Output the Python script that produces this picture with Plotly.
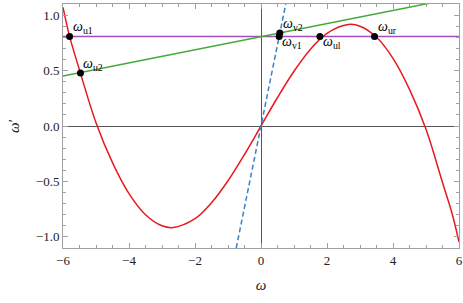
import plotly.graph_objects as go

# Red curve omega'
curve_x = [-6.0, -5.8, -5.5, -5.0, -4.5, -4.0, -3.5, -3.0, -2.65, -2.0, -1.5, -1.0, -0.5, 0.0,
           0.5, 1.0, 1.5, 2.0, 2.65, 3.0, 3.5, 4.0, 4.5, 5.0, 5.5, 5.8, 6.0]
curve_y = [1.07, 0.808, 0.505, 0.03, -0.33, -0.61, -0.80, -0.90, -0.915, -0.836, -0.693, -0.494, -0.257, 0.0,
           0.257, 0.494, 0.693, 0.836, 0.915, 0.90, 0.80, 0.61, 0.33, -0.03, -0.51, -0.80, -1.045]

# Straight lines
green_x = [-6.0, 6.0]
green_y = [0.45, 1.16]
blue_x = [-0.75, 0.75]
blue_y = [-1.1, 1.1]
purple_x = [-6.0, 6.0]
purple_y = [0.808, 0.808]

# Marked points
pt_names = ["u1", "u2", "v1", "v2", "ul", "ur"]
pt_x = [-5.8, -5.47, 0.55, 0.57, 1.785, 3.44]
pt_y = [0.808, 0.477, 0.808, 0.838, 0.808, 0.808]
pt_pos = ["above", "above", "below", "above", "below", "above"]

xticks = [-6, -4, -2, 0, 2, 4, 6]
yticks = [-1.0, -0.5, 0.0, 0.5, 1.0]

SERIF = "Liberation Serif, DejaVu Serif, serif"

fig = go.Figure()
fig.add_trace(go.Scatter(x=purple_x, y=purple_y, mode="lines",
                         line=dict(color="#A050B8", width=1.5), showlegend=False))
fig.add_trace(go.Scatter(x=green_x, y=green_y, mode="lines",
                         line=dict(color="#45A83C", width=1.5), showlegend=False))
fig.add_trace(go.Scatter(x=curve_x, y=curve_y, mode="lines",
                         line=dict(color="#E8191E", width=1.5, shape="spline", smoothing=1.0),
                         showlegend=False))
fig.add_trace(go.Scatter(x=blue_x, y=blue_y, mode="lines",
                         line=dict(color="#3A80C6", width=1.5, dash="5px,3px"), showlegend=False))
fig.add_trace(go.Scatter(x=pt_x, y=pt_y, mode="markers",
                         marker=dict(color="black", size=7), showlegend=False))

for n, x, y, p in zip(pt_names, pt_x, pt_y, pt_pos):
    fig.add_annotation(x=x, y=y, text=f"<i>ω</i><sub>{n}</sub>", showarrow=False,
                       xanchor="left", yanchor="bottom" if p == "above" else "top",
                       xshift=1, yshift=-2 if p == "above" else 4,
                       font=dict(family=SERIF, size=14, color="black"))

axis_common = dict(
    showgrid=False, showline=True, linecolor="#A0A0A0", linewidth=1, mirror="ticks",
    ticks="inside", ticklen=5, tickcolor="#A0A0A0", tickwidth=1, automargin=False,
    zeroline=True, zerolinecolor="#555555", zerolinewidth=1,
    tickfont=dict(family=SERIF, size=13, color="#222222"),
)

fig.update_xaxes(range=[-6, 6], tickvals=xticks, ticktext=[f"{v}" if v >= 0 else f"−{-v}" for v in xticks],
                 minor=dict(ticks="inside", ticklen=3, tickcolor="#A0A0A0", dtick=0.5, showgrid=False),
                 title=dict(text="<i>ω</i>", font=dict(family=SERIF, size=15, color="#222222"), standoff=12),
                 **axis_common)
fig.update_yaxes(range=[-1.1, 1.1], tickvals=yticks,
                 ticktext=[f"{v:.1f}" if v >= 0 else f"−{-v:.1f}" for v in yticks],
                 minor=dict(ticks="inside", ticklen=3, tickcolor="#A0A0A0", dtick=0.1, showgrid=False),
                 title=dict(text="<i>ω</i>′", font=dict(family=SERIF, size=15, color="#222222"), standoff=12),
                 **axis_common)

fig.update_layout(width=463, height=303, margin=dict(l=63, r=4, t=4, b=55), autosize=False,
                  plot_bgcolor="white", paper_bgcolor="white", font=dict(family=SERIF))

fig.write_html("out.html", default_width="463px", default_height="303px",
               config={"responsive": False, "displayModeBar": False},
               post_script="document.body.style.margin='0';document.body.style.overflow='hidden';")
